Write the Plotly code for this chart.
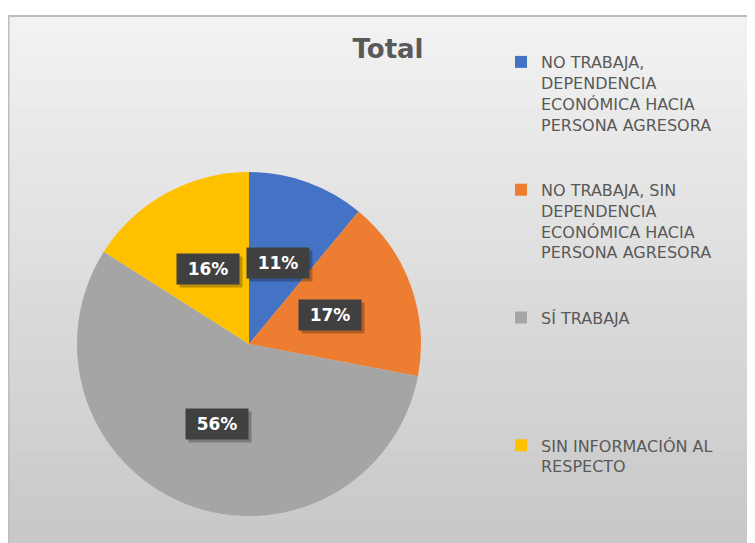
import math
import plotly.graph_objects as go

# ---- data ----
categories = [
    "NO TRABAJA,<br>DEPENDENCIA<br>ECONÓMICA HACIA<br>PERSONA AGRESORA",
    "NO TRABAJA, SIN<br>DEPENDENCIA<br>ECONÓMICA HACIA<br>PERSONA AGRESORA",
    "SÍ TRABAJA",
    "SIN INFORMACIÓN AL<br>RESPECTO",
]
values = [11, 17, 56, 16]
colors = ["#4472C4", "#ED7D31", "#A5A5A5", "#FFC000"]
title_text = "Total"

# ---- layout constants (page body has an 8px margin) ----
OFF = 8
W, H = 755 - OFF, 543 - OFF
CX, CY, R = 249 - OFF, 344 - OFF, 172     # pie centre / radius in svg pixels
LEGEND_LINES = 6                          # lines reserved per legend entry

def pad_label(lbl, last):
    if last:
        return lbl
    n = lbl.count("<br>") + 1
    return lbl + "<br> " * max(0, LEGEND_LINES - n)

legend_labels = [pad_label(c, i == len(categories) - 1) for i, c in enumerate(categories)]

fig = go.Figure()

# gradient background (frame)
top_c, bot_c = (242, 242, 242), (200, 200, 200)
frame_top, frame_left = 16 - OFF, 0
nb = 40
for i in range(nb):
    t = i / (nb - 1)
    c = tuple(round(top_c[k] + (bot_c[k] - top_c[k]) * t) for k in range(3))
    y0 = frame_top + (H - frame_top) * i / nb
    y1 = frame_top + (H - frame_top) * (i + 1) / nb
    fig.add_shape(type="rect", xref="paper", yref="paper", layer="below",
                  x0=frame_left / W, x1=1, y0=1 - y1 / H - 0.001, y1=1 - y0 / H,
                  line=dict(width=0), fillcolor="rgb(%d,%d,%d)" % c)
# frame border lines
fig.add_shape(type="line", xref="paper", yref="paper", layer="below",
              x0=0, x1=1, y0=1 - frame_top / H, y1=1 - frame_top / H,
              line=dict(color="#bdbdbd", width=2))
fig.add_shape(type="line", xref="paper", yref="paper", layer="below",
              x0=0.5 / W, x1=0.5 / W, y0=0, y1=1 - frame_top / H,
              line=dict(color="#bdbdbd", width=2))

fig.add_trace(go.Pie(
    labels=legend_labels,
    values=values,
    marker=dict(colors=colors, line=dict(width=0)),
    sort=False,
    direction="clockwise",
    rotation=0,
    textinfo="none",
    hoverinfo="label+percent",
    domain=dict(x=[(CX - R) / W, (CX + R) / W],
                y=[(H - CY - R) / H, (H - CY + R) / H]),
))

# percentage labels in dark boxes, positioned from the data (slice mid-angles)
total = sum(values)
cum = 0
for v in values:
    mid = (cum + v / 2) / total * 2 * math.pi
    cum += v
    px = CX + 0.5 * R * math.sin(mid)
    py = CY - 0.5 * R * math.cos(mid)
    txt = "%d%%" % round(v / total * 100)
    common = dict(x=px / W, y=1 - py / H, xref="paper", yref="paper",
                  xanchor="center", yanchor="middle", showarrow=False,
                  width=60, height=28)
    # soft shadow
    fig.add_annotation(text=" ", bgcolor="rgba(0,0,0,0.25)", xshift=3, yshift=-3, **common)
    fig.add_annotation(text="<b>%s</b>" % txt, bgcolor="#404040",
                       font=dict(family="DejaVu Sans", size=17, color="white"), **common)

fig.update_layout(
    width=W, height=H,
    margin=dict(l=0, r=0, t=0, b=0),
    paper_bgcolor="white",
    plot_bgcolor="rgba(0,0,0,0)",
    title=dict(text="<b>%s</b>" % title_text, x=(388 - OFF) / W, xanchor="center",
               y=1 - (49 - OFF) / H, yanchor="middle",
               font=dict(family="DejaVu Sans", size=26, color="#595959")),
    showlegend=True,
    legend=dict(x=(501 - OFF) / W, xanchor="left", y=1 - (45 - OFF) / H, yanchor="top",
                valign="top", bgcolor="rgba(0,0,0,0)",
                font=dict(family="DejaVu Sans", size=16, color="#595959"),
                itemclick=False, itemdoubleclick=False),
)

fig.write_html("out.html")
